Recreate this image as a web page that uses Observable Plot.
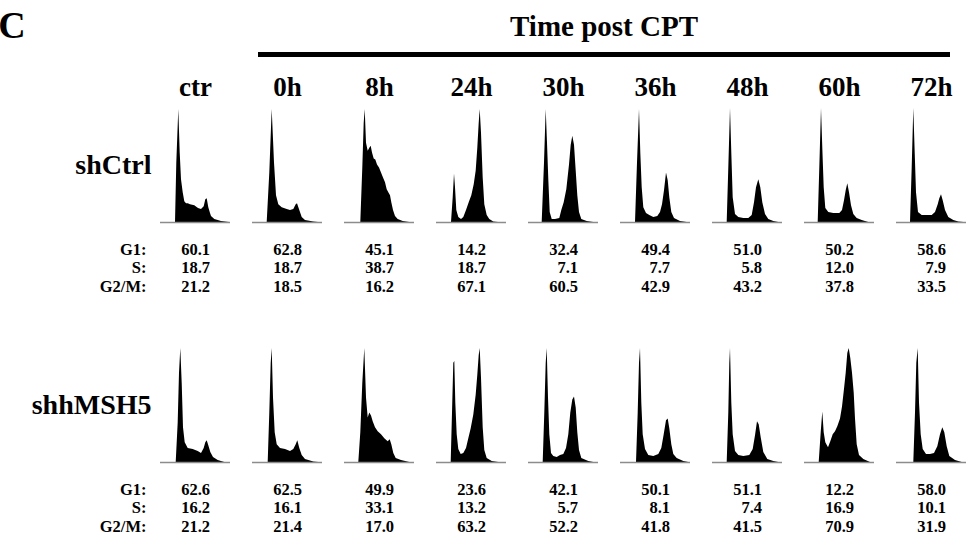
<!DOCTYPE html>
<html>
<head>
<meta charset="utf-8">
<script src="https://cdn.jsdelivr.net/npm/d3@7"></script>
<script src="https://cdn.jsdelivr.net/npm/@observablehq/plot@0.6"></script>
<style>
  html, body { margin: 0; padding: 0; background: #fff; }
  #chart { width: 967px; height: 544px; position: relative; }
  svg { display: block; }
</style>
</head>
<body>
<div id="chart"></div>
<script>
// ---------- categories ----------
const times = ["ctr", "0h", "8h", "24h", "30h", "36h", "48h", "60h", "72h"];
const rows = ["shCtrl", "shhMSH5"];
const phaseLabels = ["G1:", "S:", "G2/M:"];

// ---------- cell-cycle percentages ----------
const shCtrl_G1  = [60.1, 62.8, 45.1, 14.2, 32.4, 49.4, 51.0, 50.2, 58.6];
const shCtrl_S   = [18.7, 18.7, 38.7, 18.7,  7.1,  7.7,  5.8, 12.0,  7.9];
const shCtrl_G2M = [21.2, 18.5, 16.2, 67.1, 60.5, 42.9, 43.2, 37.8, 33.5];
const shhMSH5_G1  = [62.6, 62.5, 49.9, 23.6, 42.1, 50.1, 51.1, 12.2, 58.0];
const shhMSH5_S   = [16.2, 16.1, 33.1, 13.2,  5.7,  8.1,  7.4, 16.9, 10.1];
const shhMSH5_G2M = [21.2, 21.4, 17.0, 63.2, 52.2, 41.8, 41.5, 70.9, 31.9];

// ---------- DNA-content histograms: [channel, relative count] ----------
const shCtrl_hist = [
  // ctr
  [[15,0],[16.3,60],[18.3,114],[19.7,70],[21,43],[22.7,30],[24.3,21],[26,19],[27.7,19],[30,18],[34.3,17],[38,14],[41,13],[43.7,16],[45.3,23],[46.7,24],[48.3,15],[50,9],[51,6],[54.3,3],[57.7,2],[61,1],[69,0]],
  // 0h
  [[14.7,0],[17.3,50],[19.7,114],[22,60],[24,27],[26.3,18],[29.7,15],[34.7,13],[38,12],[41.3,13],[43.7,18],[45,19],[47.3,12],[49.7,5],[53,2],[61.3,0.5],[66,0]],
  // 8h
  [[16.3,0],[18.3,55],[19.7,100],[20.7,114],[22,80],[23.7,72],[25.3,75],[26.7,77],[28,70],[29.7,64],[31.3,63],[33,58],[35,55],[37,50],[39,45],[41,40],[42.7,33],[44.3,30],[46,27],[47.3,20],[49,12],[51,6],[53.7,3],[58.7,1],[65.3,0]],
  // 24h
  [[15,0],[16.7,25],[18,49],[19,35],[20.3,12],[22.3,5],[25,3],[27.3,5],[30,12],[32.7,20],[35.3,27],[37.7,38],[39.7,52],[41.3,75],[42.7,100],[43.7,114],[45,90],[46.7,45],[48.3,18],[50.7,7],[53.3,3],[57.3,0.5],[62,0]],
  // 30h
  [[13.7,0],[16,60],[17.7,114],[19,80],[20.3,43],[21.7,10],[23.7,3],[27,3],[31.3,4],[33.3,12],[35.7,20],[38.3,33],[41,58],[42.7,78],[44.3,87],[46,78],[47.7,52],[49.3,27],[51,10],[53.3,3],[58.7,1],[65.3,0]],
  // 36h
  [[15,0],[17,60],[19,114],[20.3,70],[21.7,35],[23.3,15],[26,9],[29.3,7],[33.3,5],[37.3,6],[40,10],[42,18],[44,32],[46,50],[47.7,42],[49.3,25],[51.3,10],[54,4],[60,1],[66.7,0]],
  // 48h
  [[14.7,0],[16.3,55],[18,115],[19.3,70],[20.7,25],[23,8],[26.3,5],[31.3,4],[36.3,4],[39.7,7],[42,20],[44,35],[46.3,43],[48.3,35],[50.3,20],[53,8],[56.3,3],[61.3,1],[66.3,0]],
  // 60h
  [[13.7,0],[15.3,55],[17,115],[18.3,75],[19.7,35],[21.3,14],[24.3,10],[29.3,9],[35.3,9],[38,12],[40,22],[41.7,32],[43.3,39],[45,30],[47,17],[49.3,8],[52.7,4],[57.7,2],[64.3,0]],
  // 72h
  [[14,0],[15.7,55],[17.3,115],[18.7,70],[20,30],[22,10],[25.7,7],[30.7,7],[35.7,7],[39,10],[41.7,18],[43.3,24],[45,28],[46.7,22],[49,12],[52.3,5],[57.3,2],[62.3,0.5],[67.3,0]]
];
const shhMSH5_hist = [
  // ctr
  [[15.7,0],[17.7,40],[19,90],[20.3,115],[21.7,80],[23,35],[24.7,20],[27.7,14],[32.7,13],[37.7,11],[41,9],[43.7,14],[45.3,20],[46.7,22],[48.3,17],[50.3,10],[53,5],[57.7,2],[64.3,0]],
  // 0h
  [[15.7,0],[17.3,50],[18.7,100],[19.7,115],[21,65],[22.7,30],[24.7,18],[28,14],[33,13],[38,11],[41.3,13],[43.7,18],[45.3,22],[47.3,14],[49.7,7],[53,3],[61.3,0.5],[66.3,0]],
  // 8h
  [[14.3,0],[16.3,30],[18.3,80],[20.3,115],[22,65],[23.7,45],[25.3,50],[27,47],[28.7,41],[31,35],[33.7,31],[37,28],[40.3,24],[43.7,21],[45.7,23],[47.3,18],[49.3,9],[51.7,4],[57,2],[65.3,0]],
  // 24h
  [[14.7,0],[16,50],[17.3,100],[18.3,102],[19.3,60],[20.7,28],[22.3,13],[24.7,8],[27.3,9],[30,14],[32.3,24],[34.7,34],[37.3,48],[39.7,68],[41.3,88],[42.7,108],[43.7,115],[45,85],[46.7,35],[48.3,12],[50.7,4],[55.7,1],[62.3,0]],
  // 30h
  [[14.7,0],[16.3,50],[17.7,100],[18.7,115],[20,65],[21.3,28],[23,9],[25.3,6],[28.7,5],[32,7],[35.3,8],[38,14],[40.3,28],[42.3,50],[44.3,63],[46,66],[47.7,55],[49.3,30],[51,12],[53.3,4],[60.3,1],[65.3,0]],
  // 36h
  [[16,0],[17.7,50],[19,100],[20,115],[21.3,60],[22.7,28],[25,13],[28.3,7],[33.3,6],[38.3,8],[41.3,14],[43.7,28],[46,42],[47.7,44],[49.3,34],[51.3,18],[53.3,8],[56.7,4],[63.3,1],[68.3,0]],
  // 48h
  [[14.7,0],[16.3,50],[17.3,100],[18,115],[19.3,60],[20.7,28],[23,11],[26.3,7],[31.3,6],[37.3,7],[40.7,13],[43,27],[45,41],[46.7,38],[48.7,25],[51.3,10],[55.3,3],[61.3,1],[66.3,0]],
  // 60h
  [[14.7,0],[16.7,30],[18.3,51],[19.7,30],[21.3,20],[24,15],[26.3,21],[28.7,28],[31,31],[33.3,36],[36,44],[38,56],[40,74],[41.7,90],[43.3,110],[44.7,115],[46.3,105],[48,90],[49.7,70],[51,44],[52.7,18],[55,7],[59.3,3],[66,0]],
  // 72h
  [[17.3,0],[19,50],[20.3,100],[21.7,115],[23,60],[24.7,28],[26.7,13],[30,8],[34,8],[38,9],[41.3,16],[44,28],[46.3,35],[48.3,30],[50.7,16],[53.3,6],[59,2],[65.7,0]]
];

// ---------- build tables ----------
const histTable = [];
[shCtrl_hist, shhMSH5_hist].forEach((panels, r) => {
  panels.forEach((pts, i) => {
    pts.forEach(([channel, count]) => histTable.push({row: rows[r], time: times[i], channel, count}));
  });
});

const statsTable = [];
[[shCtrl_G1, shCtrl_S, shCtrl_G2M], [shhMSH5_G1, shhMSH5_S, shhMSH5_G2M]].forEach((arrs, r) => {
  times.forEach((t, i) => {
    statsTable.push({row: rows[r], time: t, g1: arrs[0][i], s: arrs[1][i], g2m: arrs[2][i]});
  });
});

const labelRows = rows.map(r => ({row: r, time: times[0]}));
const headerCells = times.map(t => ({row: rows[0], time: t}));

const serif = "'Liberation Serif', 'DejaVu Serif', serif";
const fmt = d3.format(".1f");
const statFont = {fontSize: 16.5, lineHeight: 1.11, fontWeight: "bold", fontFamily: serif, fill: "#000"};

const plot = Plot.plot({
  width: 967,
  height: 544,
  marginLeft: 159,
  marginRight: 1,
  marginTop: 108,
  marginBottom: 81,
  style: {background: "#fff", overflow: "visible"},
  fx: {domain: times, paddingInner: 22 / 92, paddingOuter: 0, axis: null},
  fy: {domain: rows, paddingInner: 0.524, paddingOuter: 0, axis: null},
  x: {domain: [0, 70], axis: null},
  y: {domain: [0, 115], axis: null},
  marks: [
    Plot.areaY(histTable, {fx: "time", fy: "row", x: "channel", y: "count", fill: "#000", curve: "linear"}),
    Plot.ruleY(statsTable, {fx: "time", fy: "row", y: () => 0, stroke: "#8c8c8c", strokeWidth: 1.3}),
    // column headers
    Plot.text(headerCells, {
      fx: "time", fy: "row", text: "time", frameAnchor: "top", dy: -13, lineAnchor: "bottom",
      fontSize: 27, fontWeight: "bold", fontFamily: serif, fill: "#000"
    }),
    // row labels
    Plot.text(labelRows, {
      fx: "time", fy: "row", text: "row", frameAnchor: "left", dx: -9, textAnchor: "end", lineAnchor: "middle",
      fontSize: 28, fontWeight: "bold", fontFamily: serif, fill: "#000"
    }),
    // phase labels (one multi-line block per row)
    Plot.text(labelRows, {
      fx: "time", fy: "row", text: () => phaseLabels.join("\n"),
      frameAnchor: "bottom-left", dx: -14, dy: 69.3, textAnchor: "end", lineAnchor: "bottom", ...statFont
    }),
    // percentages (one multi-line block per panel)
    Plot.text(statsTable, {
      fx: "time", fy: "row", text: d => [d.g1, d.s, d.g2m].map(fmt).join("\n"),
      frameAnchor: "bottom-left", dx: 49.5, dy: 69.3, textAnchor: "end", lineAnchor: "bottom", ...statFont
    })
  ]
});

document.getElementById("chart").appendChild(plot);

const svg = d3.select(plot);
// Panel letter
svg.append("text").attr("x", 12).attr("y", 38)
  .attr("font-family", serif).attr("font-weight", "bold").attr("font-size", 38).attr("fill", "#000").text("C");
// Bracket title
svg.append("text").attr("x", 604).attr("y", 36).attr("text-anchor", "middle")
  .attr("font-family", serif).attr("font-weight", "bold").attr("font-size", 29).attr("fill", "#000").text("Time post CPT");
svg.append("line").attr("x1", 258).attr("x2", 950).attr("y1", 54.5).attr("y2", 54.5)
  .attr("stroke", "#000").attr("stroke-width", 5);
</script>
</body>
</html>
